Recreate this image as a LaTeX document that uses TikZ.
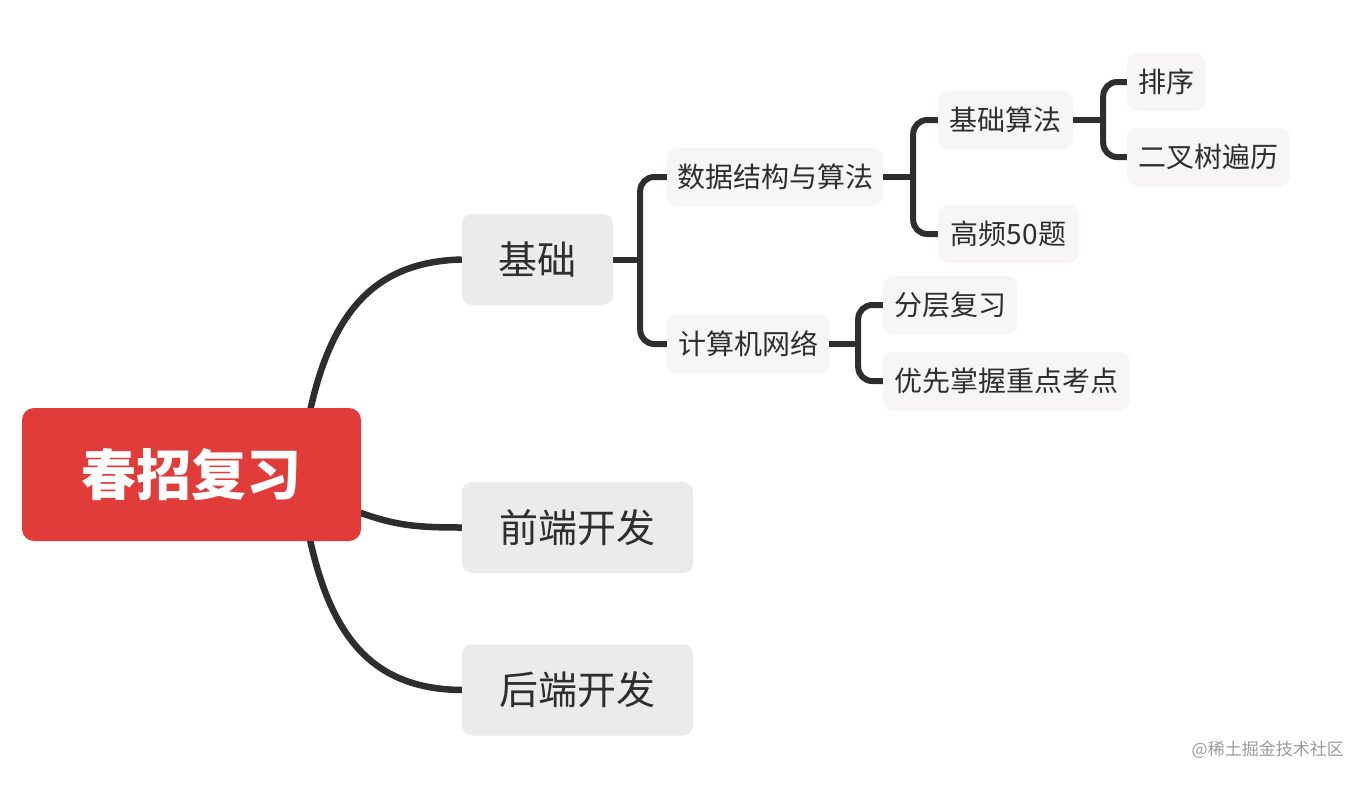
\documentclass[tikz,border=0pt]{standalone}
\usepackage{fontspec}
\newfontfamily\cjk{Noto Sans CJK SC}
\usetikzlibrary{calc,backgrounds}
\definecolor{rootred}{HTML}{E13B3A}
\definecolor{lvone}{HTML}{EBEBEB}
\definecolor{lvtwo}{HTML}{F7F5F5}
\definecolor{ink}{HTML}{2E2E2E}
\definecolor{wm}{HTML}{9C9C9C}
\tikzset{
  rootbox/.style={fill=rootred, rounded corners=12pt, text=white, minimum height=133pt, minimum width=339pt, inner sep=0pt, font=\cjk\bfseries\fontsize{55}{60}\selectfont},
  onebox/.style={fill=lvone, rounded corners=10pt, text=ink, minimum height=91pt, inner sep=0pt, font=\cjk\fontsize{39}{44}\selectfont},
  twobox/.style={fill=lvtwo, rounded corners=10pt, text=ink, minimum height=58pt, inner sep=0pt, font=\cjk\fontsize{28}{32}\selectfont},
  conn/.style={draw=ink, line width=6.5pt},
  brk/.style={draw=ink, line width=6pt, rounded corners=14pt},
}
\begin{document}
\begin{tikzpicture}[x=1pt,y=-1pt]
\useasboundingbox (0,0) rectangle (1364,784);
% level 0
\node[rootbox] (root) at (191.5,474.5) {春招复习};
% level 1
\node[onebox, minimum width=151pt] (jichu) at (537.5,259.5) {基础};
\node[onebox, minimum width=231pt] (qian) at (577.5,527.5) {前端开发};
\node[onebox, minimum width=231pt] (hou) at (577.5,690) {后端开发};
% level 2
\node[twobox, minimum width=216pt] (sjjg) at (775,177) {数据结构与算法};
\node[twobox, minimum width=162pt] (jsjwl) at (748,344) {计算机网络};
% level 3
\node[twobox, minimum width=135pt] (jcsf) at (1005.5,120) {基础算法};
\node[twobox, minimum width=141pt] (gp) at (1008.5,234) {高频50题};
\node[twobox, minimum width=134pt] (fc) at (950,305) {分层复习};
\node[twobox, minimum width=247pt] (yx) at (1006.5,381) {优先掌握重点考点};
% level 4
\node[twobox, minimum width=78pt] (px) at (1166,82) {排序};
\node[twobox, minimum width=163pt] (ecs) at (1208.5,157) {二叉树遍历};
% watermark
\node[text=wm, font=\cjk\fontsize{17}{20}\selectfont, anchor=east, inner sep=0pt] (wmk) at (1344,750) {@稀土掘金技术社区};
% connectors
\coordinate (ra) at (300,470);
\coordinate (rb) at (300,480);
\coordinate (rc) at (340,505);
\begin{scope}[on background layer]
\fill[white] (0,0) rectangle (1364,784);
\draw[conn] (ra) .. controls (318,330) and (360,262) .. (jichu.west);
\draw[conn] (rb) .. controls (318,622) and (360,689) .. (hou.west);
\draw[conn] (rc) .. controls (390,525) and (410,527.5) .. (qian.west);
\end{scope}
% bracket: jichu
\coordinate (s1) at ($(jichu.east)+(27,0)$);
\draw[brk] (jichu.east) -- (s1);
\draw[brk] (sjjg.west) -| (s1) |- (jsjwl.west);
% bracket: sjjg
\coordinate (s2) at ($(sjjg.east)+(30,0)$);
\draw[brk] (sjjg.east) -- (s2);
\draw[brk] (jcsf.west) -| (s2) |- (gp.west);
% bracket: jcsf
\coordinate (s3) at ($(jcsf.east)+(30,0)$);
\draw[brk] (jcsf.east) -- (s3);
\draw[brk] (px.west) -| (s3) |- (ecs.west);
% bracket: jsjwl
\coordinate (s4) at ($(jsjwl.east)+(29,0)$);
\draw[brk] (jsjwl.east) -- (s4);
\draw[brk] (fc.west) -| (s4) |- (yx.west);
\end{tikzpicture}
\end{document}
